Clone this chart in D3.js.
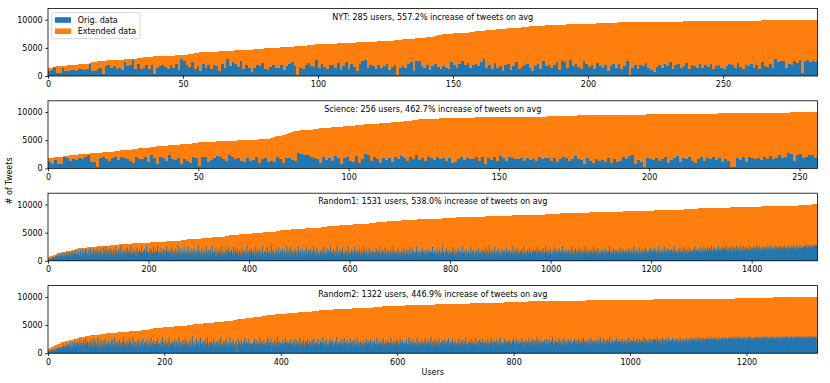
<!DOCTYPE html>
<html>
<head>
<meta charset="utf-8">
<script src="https://cdn.jsdelivr.net/npm/d3@7"></script>
<style>
  body { margin: 0; background: #fff; }
  text { font-family: "DejaVu Sans", sans-serif; }
</style>
</head>
<body>
<svg id="chart" width="830" height="383"></svg>
<script>
// tweets per user, in hundreds of tweets (orange = extended, sorted; blue = original)
const nytExt = [
14,15,16,17,17,18,18,19,19,20,20,21,21,22,22,23,24,25,26,26,
27,27,28,28,28,29,29,29,30,30,31,31,31,32,32,33,33,33,34,35,
35,35,35,36,36,36,36,37,37,37,38,38,39,39,40,41,42,42,42,43,
43,43,43,44,44,44,45,45,45,46,46,46,47,47,47,47,48,48,48,48,
49,49,49,50,50,50,51,51,52,52,52,53,53,54,54,54,55,55,55,56,
56,56,56,57,57,57,57,58,58,58,59,59,59,59,60,60,60,60,60,61,
61,61,62,62,62,63,63,63,64,64,64,65,65,66,66,66,67,67,68,68,
69,69,70,71,72,73,74,74,75,75,76,76,76,77,77,77,78,78,79,79,
80,80,81,81,82,82,83,83,84,84,85,85,86,86,86,87,87,87,88,88,
88,89,89,89,90,90,90,90,91,91,91,91,92,92,92,92,92,93,93,93,
93,93,93,94,94,94,94,94,94,94,94,95,95,95,95,95,95,95,95,95,
95,95,95,96,96,96,96,96,96,96,96,96,96,96,96,97,97,97,97,97,
97,97,97,97,97,97,97,97,97,97,98,98,98,98,98,98,98,98,98,98,
98,98,98,98,99,99,99,99,99,99,99,99,99,99,99,99,100,100,100,100,
100,100,100,100,100];
const nytOrig = [
8,11,16,6,5,14,9,8,10,11,9,12,13,10,12,22,9,8,13,14,
4,17,19,15,18,12,14,10,25,17,19,28,13,22,12,15,20,13,19,3,
14,18,20,16,13,19,15,22,11,30,26,20,16,24,13,18,9,21,15,19,
12,20,17,8,22,14,30,18,24,21,16,26,12,19,14,7,15,20,17,23,
13,11,16,19,14,15,20,10,17,22,24,18,2,15,13,20,23,17,16,28,
14,21,16,12,19,20,15,23,11,18,24,13,21,16,9,22,26,28,15,19,
17,12,20,14,18,22,11,16,19,1,15,18,14,21,24,9,26,27,18,14,
20,11,17,22,16,13,18,14,12,25,19,15,21,26,19,23,15,20,22,18,
24,30,15,19,12,23,14,18,9,20,22,11,17,24,13,16,19,21,14,8,
18,22,13,26,17,20,15,19,24,11,27,25,14,28,18,21,16,13,27,22,
16,19,12,23,18,14,20,9,17,21,15,22,13,18,26,2,14,19,12,20,
17,23,15,11,7,16,20,14,22,18,24,13,19,21,15,17,23,12,20,18,
15,21,14,19,16,22,13,18,20,15,12,17,21,19,14,23,16,13,20,17,
22,15,19,13,24,18,16,21,14,30,25,27,26,15,22,19,27,23,28,6,
26,28,25,27,24];

const sciExt = [
18,18,20,20,21,22,22,23,23,24,25,25,26,26,27,27,28,28,29,29,
30,30,31,31,32,32,33,33,34,35,36,36,37,37,38,38,39,39,40,40,
41,41,42,42,43,43,44,44,45,45,46,46,46,47,47,47,48,48,48,48,
49,49,49,50,50,50,50,51,51,51,52,52,52,53,54,55,57,58,60,61,
63,64,66,67,68,68,69,69,70,70,71,71,72,72,73,73,74,74,75,75,
76,76,77,77,77,78,78,78,79,79,80,80,81,81,82,82,83,83,84,84,
85,86,86,87,87,87,88,88,88,88,89,89,89,89,89,90,90,90,90,90,
90,90,91,91,91,91,91,91,91,91,91,91,92,92,92,92,92,92,92,92,
92,92,92,92,92,92,93,93,93,93,93,93,93,93,93,93,94,94,94,94,
94,94,94,94,94,94,94,95,95,95,95,95,95,95,95,95,95,95,95,96,
96,96,96,96,96,96,96,96,96,96,96,97,97,97,97,97,97,97,97,97,
97,97,97,98,98,98,98,98,98,98,98,98,98,98,98,99,99,99,99,99,
99,99,99,99,99,99,99,100,100,100,100,100,100,100,100,100];
const sciOrig = [
12,8,15,7,8,20,19,14,16,15,18,17,20,24,12,11,3,19,21,17,
13,18,20,15,21,19,16,14,9,20,17,16,21,11,23,18,7,20,18,13,
24,16,15,19,8,17,14,9,21,18,4,21,20,12,15,19,22,21,16,14,
24,20,17,18,14,12,18,13,15,20,9,17,19,12,13,11,21,17,10,18,
19,15,13,27,25,23,24,20,18,16,10,21,15,19,14,22,18,8,19,20,
14,12,22,9,16,25,24,13,20,17,10,18,15,19,11,20,16,22,18,13,
21,17,24,15,19,14,20,18,15,21,16,19,14,18,9,12,17,20,15,18,
16,17,20,14,21,8,18,15,20,13,22,19,14,21,18,17,16,19,14,18,
15,17,13,20,16,18,19,14,18,12,17,21,19,13,16,22,17,15,8,19,
14,10,17,13,15,11,19,9,16,12,14,20,17,22,23,8,15,11,3,18,
16,15,19,13,17,21,10,15,18,22,12,19,17,20,14,10,16,21,13,18,
17,20,15,19,12,16,14,2,3,18,15,21,12,20,19,16,18,15,20,17,
22,16,19,24,18,21,27,26,14,23,25,19,21,23,24,18];

const r1Ext = [
6,7,7,8,8,8,9,9,9,10,
10,10,11,11,11,12,12,12,13,13,
13,13,14,14,14,14,15,15,15,15,
16,16,16,16,16,17,17,17,17,17,
18,18,18,18,18,19,19,19,19,19,
20,20,20,20,21,21,21,21,21,22,
22,22,22,22,22,22,23,23,23,23,
23,23,23,23,23,23,23,23,24,24,
24,24,24,24,24,24,24,25,25,25,
25,25,25,25,25,25,25,26,26,26,
26,26,26,26,26,26,26,26,26,27,
27,27,27,27,27,27,27,27,27,27,
27,27,27,27,28,28,28,28,28,28,
28,28,28,28,28,28,28,28,28,28,
28,28,29,29,29,29,29,29,29,29,
29,29,29,29,29,29,30,30,30,30,
30,30,30,30,30,30,30,30,31,31,
31,31,31,31,31,31,31,31,31,31,
31,31,31,32,32,32,32,32,32,32,
32,32,32,32,32,32,32,32,32,32,
32,32,32,33,33,33,33,33,33,33,
33,33,33,33,33,33,33,33,34,34,
34,34,34,34,34,34,34,34,34,34,
34,34,34,34,34,35,35,35,35,35,
35,35,35,35,35,35,35,35,35,35,
35,35,35,36,36,36,36,36,36,36,
36,36,36,36,36,37,37,37,37,37,
37,37,37,37,37,37,38,38,38,38,
38,38,38,38,38,38,38,38,38,39,
39,39,39,39,39,39,39,39,39,39,
39,39,39,39,40,40,40,40,40,40,
40,40,40,40,40,41,41,41,41,41,
41,41,41,41,41,41,41,42,42,42,
42,42,42,42,42,42,42,42,43,43,
43,43,43,43,43,43,43,43,43,43,
43,43,44,44,44,44,44,44,44,44,
44,45,45,45,45,45,45,45,45,45,
45,46,46,46,46,46,46,46,46,46,
46,47,47,47,47,47,47,47,47,47,
47,47,48,48,48,48,48,48,48,48,
48,48,48,48,48,49,49,49,49,49,
49,49,49,49,49,49,50,50,50,50,
50,50,50,50,50,50,50,50,51,51,
51,51,51,51,51,51,51,51,51,51,
52,52,52,52,52,52,52,52,52,52,
52,52,52,53,53,53,53,53,53,53,
53,53,54,54,54,54,54,54,54,54,
54,54,54,55,55,55,55,55,55,55,
55,55,55,55,56,56,56,56,56,56,
56,56,56,56,56,56,57,57,57,57,
57,57,57,57,57,57,57,57,57,57,
57,57,58,58,58,58,58,58,58,58,
58,58,58,58,58,58,58,59,59,59,
59,59,59,59,59,59,59,59,59,59,
59,59,59,60,60,60,60,60,60,60,
60,60,60,60,60,61,61,61,61,61,
61,61,61,61,61,61,62,62,62,62,
62,62,62,62,62,62,62,62,63,63,
63,63,63,63,63,63,63,63,63,63,
63,64,64,64,64,64,64,64,64,64,
64,64,64,64,64,64,64,65,65,65,
65,65,65,65,65,65,65,65,65,65,
65,65,66,66,66,66,66,66,66,66,
66,66,66,66,66,66,66,66,67,67,
67,67,67,67,67,67,67,67,67,67,
67,67,67,68,68,68,68,68,68,68,
68,68,68,69,69,69,69,69,69,69,
69,69,69,69,70,70,70,70,70,70,
70,70,70,70,70,70,71,71,71,71,
71,71,71,71,71,71,71,71,71,71,
71,71,72,72,72,72,72,72,72,72,
72,72,72,72,72,72,72,73,73,73,
73,73,73,73,73,73,73,73,73,73,
73,73,73,73,74,74,74,74,74,74,
74,74,74,74,74,74,74,74,74,74,
74,74,74,74,74,74,74,74,74,75,
75,75,75,75,75,75,75,75,75,75,
75,75,75,75,75,75,75,75,75,75,
75,75,75,75,76,76,76,76,76,76,
76,76,76,76,76,76,76,76,76,76,
76,76,76,76,76,76,76,76,76,76,
76,77,77,77,77,77,77,77,77,77,
77,77,77,77,77,77,77,77,77,77,
77,77,77,77,77,77,77,77,77,77,
78,78,78,78,78,78,78,78,78,78,
78,78,78,78,78,78,78,78,78,78,
78,78,78,78,78,78,78,78,78,79,
79,79,79,79,79,79,79,79,79,79,
79,79,79,79,79,79,79,79,79,79,
79,79,79,80,80,80,80,80,80,80,
80,80,80,80,80,80,80,80,80,80,
80,80,80,80,80,80,80,80,80,80,
80,80,80,81,81,81,81,81,81,81,
81,81,81,81,81,81,81,81,81,81,
81,81,81,81,81,81,81,81,81,81,
81,81,81,81,81,81,81,81,81,82,
82,82,82,82,82,82,82,82,82,82,
82,82,82,82,82,82,82,82,82,82,
82,82,82,82,82,82,82,82,83,83,
83,83,83,83,83,83,83,83,83,83,
83,83,83,83,83,83,83,83,83,83,
83,83,83,83,83,83,83,83,84,84,
84,84,84,84,84,84,84,84,84,84,
84,84,84,84,84,84,84,84,84,84,
84,84,84,84,84,84,85,85,85,85,
85,85,85,85,85,85,85,85,85,85,
85,85,85,85,85,85,85,85,85,85,
85,85,85,85,85,85,86,86,86,86,
86,86,86,86,86,86,86,86,86,86,
86,86,86,86,86,86,86,86,86,86,
86,86,86,86,86,86,86,86,86,86,
86,86,86,87,87,87,87,87,87,87,
87,87,87,87,87,87,87,87,87,87,
87,87,87,87,87,87,87,87,87,87,
87,87,87,87,88,88,88,88,88,88,
88,88,88,88,88,88,88,88,88,88,
88,88,88,88,88,88,88,88,88,88,
88,88,88,88,88,89,89,89,89,89,
89,89,89,89,89,89,89,89,89,89,
89,89,89,89,89,89,89,89,89,89,
89,89,89,89,89,89,90,90,90,90,
90,90,90,90,90,90,90,90,90,90,
90,90,90,90,90,90,90,90,90,90,
90,90,90,90,91,91,91,91,91,91,
91,91,91,91,91,91,91,91,91,91,
91,91,91,91,91,91,91,91,91,91,
91,91,91,91,91,92,92,92,92,92,
92,92,92,92,92,92,92,92,92,92,
92,92,92,92,92,92,92,92,92,92,
92,92,92,93,93,93,93,93,93,93,
93,93,93,93,93,93,93,93,93,93,
93,93,93,93,93,93,93,93,93,93,
93,93,93,93,93,93,93,94,94,94,
94,94,94,94,94,94,94,94,94,94,
94,94,94,94,94,94,94,94,94,94,
94,94,94,94,94,94,94,95,95,95,
95,95,95,95,95,95,95,95,95,95,
95,95,95,95,95,95,95,95,95,95,
95,95,95,95,95,95,96,96,96,96,
96,96,96,96,96,96,96,96,96,96,
96,96,96,96,96,96,96,96,96,96,
96,96,96,96,96,96,96,96,96,97,
97,97,97,97,97,97,97,97,97,97,
97,97,97,97,97,97,97,97,97,97,
97,97,97,97,97,97,97,97,97,97,
97,97,97,97,97,97,97,97,97,98,
98,98,98,98,98,98,98,98,98,98,
98,98,98,98,98,98,98,98,98,98,
98,98,98,98,98,98,98,98,98,98,
98,98,99,99,99,99,99,99,99,99,
99,99,99,99,99,99,99,99,99,99,
99,99,99,99,99,99,99,99,99,99,
99,100,100,100,100,100,100,100,100,100,100];
const r1Orig = [
2,3,2,4,3,5,3,4,6,3,
5,7,4,6,8,4,9,5,7,10,
6,11,8,4,12,7,9,5,13,8,
7,12,6,14,9,6,11,15,8,13,
10,7,16,12,6,14,9,17,11,8,
13,9,17,7,12,19,8,14,10,6,
18,11,7,15,20,9,5,13,21,8,
12,16,6,19,10,22,7,14,11,5,
20,9,15,8,23,11,6,17,12,9,
22,7,13,19,9,5,16,24,8,14,
11,18,7,14,22,9,15,6,12,24,
8,13,19,10,26,7,15,11,20,9,
14,6,23,12,17,8,21,10,4,16,
19,11,7,25,13,9,18,12,15,6,
22,10,16,8,27,11,14,7,20,13,
9,17,12,6,21,14,10,24,8,15,
11,19,7,13,28,9,16,12,5,22,
14,8,18,11,15,7,23,10,17,9,
13,20,6,16,12,26,8,14,10,18,
7,21,11,15,9,27,12,17,8,14,
10,16,22,7,13,19,9,15,11,25,
8,14,6,20,12,17,10,27,9,13,
18,7,15,11,23,8,16,12,5,21,
14,9,19,10,13,26,7,17,11,15,
20,8,12,16,9,24,13,6,18,10,
15,11,21,7,14,9,18,12,27,8,
13,17,10,22,6,15,11,19,9,14,
25,8,12,16,10,20,7,13,26,11,
9,17,14,6,21,12,8,18,10,15,
23,7,13,11,19,9,16,12,28,8,
12,18,9,15,7,22,11,14,8,20,
13,6,17,10,25,12,9,16,11,19,
8,14,21,7,13,10,27,9,15,12,
17,8,11,23,6,14,10,18,13,9,
20,12,7,16,11,26,8,14,10,17,
9,15,12,21,7,13,18,10,25,8,
14,11,17,6,20,12,9,16,10,26,
7,13,19,11,15,8,22,12,9,14,
18,10,6,16,13,24,8,11,17,9,
12,20,7,14,10,27,11,15,8,19,
13,9,17,11,22,7,14,10,18,12,
8,25,11,15,6,20,13,9,16,10,
21,8,12,17,9,14,26,7,13,11,
16,10,19,8,14,12,24,9,15,7,
18,11,13,28,10,16,8,20,12,14,
10,17,7,13,21,9,15,12,25,8,
14,11,18,6,16,10,22,13,9,19,
12,7,15,11,27,8,17,10,14,20,
9,13,24,7,16,12,10,18,8,15,
11,21,14,9,17,6,13,26,10,16,
8,14,19,11,7,22,13,9,16,12,
18,10,15,25,8,13,11,20,7,17,
12,9,21,14,10,16,8,27,11,13,
19,7,15,10,24,12,9,17,14,8,
11,18,13,6,20,10,16,12,26,9,
14,11,17,8,22,13,10,19,7,15,
12,25,9,16,11,14,8,21,13,10,
18,7,15,12,27,9,14,11,17,8,
20,13,10,16,7,24,12,9,15,11,
8,19,14,10,17,12,26,9,13,16,
11,15,8,21,13,10,18,12,7,25,
14,9,17,11,20,8,16,13,10,22,
12,7,15,19,9,14,11,27,8,17,
13,10,21,12,16,7,14,9,24,11,
18,8,13,15,10,20,12,17,9,14,
16,10,22,8,13,18,11,15,7,26,
12,9,17,14,10,20,8,16,13,11,
24,7,14,10,19,12,9,17,11,15,
8,21,13,10,16,12,27,9,14,11,
18,7,15,13,10,22,8,17,12,14,
9,16,12,19,7,14,11,24,10,17,
13,8,15,20,11,14,9,18,12,25,
10,16,7,13,21,9,15,12,17,8,
14,11,26,10,16,13,8,19,12,15,
7,18,11,14,22,9,16,10,13,20,
12,8,17,14,10,21,13,9,16,11,
19,7,15,12,25,10,14,8,18,13,
11,16,9,22,12,7,15,10,20,14,
8,17,13,11,27,9,15,12,10,18,
14,7,21,11,16,13,9,19,12,15,
10,18,13,8,16,24,11,14,9,20,
12,15,7,17,11,22,10,13,16,8,
19,12,14,9,26,11,15,10,17,13,
8,21,12,16,10,14,18,9,13,11,
25,7,15,12,17,10,20,13,9,16,
11,14,19,8,16,12,23,10,15,13,
9,18,11,17,7,21,14,10,16,12,
24,8,13,19,11,15,9,27,12,14,
10,17,13,8,20,11,16,12,25,9,
15,11,18,13,10,22,14,8,17,12,
13,9,21,15,11,17,8,19,12,14,
10,24,13,16,9,18,11,14,20,8,
15,12,17,10,26,13,9,16,11,19,
14,8,22,12,15,10,18,13,9,17,
11,20,14,10,16,12,25,9,15,13,
17,11,14,20,9,15,12,24,10,16,
13,8,18,14,11,21,12,16,9,19,
15,10,25,13,11,17,8,20,14,12,
18,9,15,12,22,11,16,13,10,27,
12,17,9,14,19,11,15,10,21,13,
14,10,18,12,16,9,24,13,11,17,
20,12,15,8,19,14,10,22,13,16,
11,17,13,26,10,15,12,18,9,14,
21,11,16,13,10,20,14,12,17,9,
15,25,12,14,11,18,13,10,22,16,
12,16,10,19,14,11,24,13,17,9,
15,20,12,14,10,18,16,11,26,13,
10,17,14,21,12,9,16,13,19,11,
18,12,15,10,25,14,11,17,13,20,
9,16,13,22,11,15,12,18,10,14,
17,11,20,14,12,16,10,24,13,15,
11,19,14,9,17,13,27,12,16,10,
14,18,11,15,22,13,10,17,12,20,
16,9,14,19,12,15,11,25,13,17,
10,21,14,12,18,13,16,11,20,15,
13,17,11,22,15,10,18,14,12,21,
16,11,14,19,13,26,10,17,12,15,
20,14,11,16,13,24,12,17,10,18,
14,21,12,15,11,19,16,13,25,10,
17,12,15,20,13,11,18,14,23,16,
12,19,15,11,17,24,14,12,20,16,
10,18,13,15,27,12,17,14,11,21,
15,13,19,12,16,25,11,17,14,20,
13,18,12,22,15,11,17,19,14,16,
21,12,15,18,13,26,16,11,19,14,
16,13,20,15,12,18,23,14,17,11,
19,15,13,25,16,12,18,14,21,13,
15,20,12,17,14,24,16,13,19,15,
12,18,16,21,14,13,26,15,17,20,
14,19,13,16,23,15,18,12,25,17,
15,20,17,13,24,16,19,14,22,18,
16,25,13,18,15,23,17,20,14,27,
19,15,21,17,13,24,16,20,18,14,
22,17,15,26,19,16,21,14,18,24,
16,20,17,25,15,19,23,16,28,18,
20,16,24,18,15,22,19,17,26,14,
21,18,16,25,20,17,23,15,19,27,
17,22,19,15,21,25,18,16,24,20,
15,19,26,17,22,18,16,25,20,21,
18,23,16,20,27,17,21,19,15,24,
22,17,20,26,18,23,16,21,28,19,
17,25,20,22,15,27,19,18,24,21,
20,16,26,22,18,24,17,21,19,27,
23,19,17,25,21,20,28,18,22,16,
21,26,19,23,17,22,20,27,18,24,
19,23,21,17,27,20,25,18,22,26,
21,18,24,20,28,19,23,22,17,25,
20,27,22,19,24,21,18,26,23,20,
24,19,22,28,20,23,21,18,27,22,
20,25,23,19,22,29,21,24,20,23,
25,21,24,22,28,20,27,23,21,26,
22,29,24,20,27,23,25,21,28,22,
24,27,23,29,26,22,28,24,27,23,26];

const r2Ext = [
8,8,9,9,10,10,11,11,12,12,
13,13,14,14,15,15,16,16,17,17,
18,18,18,19,19,19,20,20,20,20,
21,21,21,22,22,22,23,23,23,24,
24,24,24,25,25,25,25,26,26,26,
27,27,27,27,28,28,28,28,29,29,
29,29,29,30,30,30,30,31,31,31,
31,31,31,32,32,32,32,32,32,32,
33,33,33,33,33,33,33,33,33,34,
34,34,34,34,34,34,34,34,34,34,
35,35,35,35,35,35,35,35,35,36,
36,36,36,36,36,36,36,36,36,37,
37,37,37,37,37,37,37,37,37,38,
38,38,38,38,38,38,38,38,38,38,
39,39,39,39,39,39,39,39,39,39,
39,39,40,40,40,40,40,40,40,41,
41,41,41,41,41,41,42,42,42,42,
42,42,42,43,43,43,43,43,43,43,
44,44,44,44,44,44,44,44,45,45,
45,45,45,45,45,45,45,46,46,46,
46,46,46,46,46,46,46,47,47,47,
47,47,47,47,47,47,47,48,48,48,
48,48,48,48,48,48,48,49,49,49,
49,49,49,49,49,49,49,49,50,50,
50,50,50,50,50,50,50,50,50,51,
51,51,51,51,51,51,51,51,52,52,
52,52,52,52,52,52,52,53,53,53,
53,53,53,53,53,53,54,54,54,54,
54,54,54,54,54,55,55,55,55,55,
55,55,55,55,55,56,56,56,56,56,
56,56,56,57,57,57,57,57,57,57,
58,58,58,58,58,58,58,59,59,59,
59,59,59,59,60,60,60,60,60,60,
60,61,61,61,61,61,61,61,62,62,
62,62,62,62,62,62,63,63,63,63,
63,63,63,64,64,64,64,64,64,65,
65,65,65,65,65,65,66,66,66,66,
66,66,66,66,67,67,67,67,67,67,
67,68,68,68,68,68,68,68,68,68,
69,69,69,69,69,69,69,69,69,69,
70,70,70,70,70,70,70,70,70,70,
71,71,71,71,71,71,71,71,71,71,
72,72,72,72,72,72,72,72,72,72,
73,73,73,73,73,73,73,73,73,73,
73,73,73,74,74,74,74,74,74,74,
74,74,74,74,75,75,75,75,75,75,
75,75,75,75,75,76,76,76,76,76,
76,76,76,76,76,76,76,77,77,77,
77,77,77,77,77,77,77,77,77,77,
78,78,78,78,78,78,78,78,78,78,
78,78,78,78,78,78,78,79,79,79,
79,79,79,79,79,79,79,79,79,79,
79,79,79,80,80,80,80,80,80,80,
80,80,80,80,80,80,80,80,80,80,
80,81,81,81,81,81,81,81,81,81,
81,81,81,81,81,81,81,81,82,82,
82,82,82,82,82,82,82,82,82,82,
82,82,82,82,83,83,83,83,83,83,
83,83,83,83,83,83,83,83,83,83,
83,83,84,84,84,84,84,84,84,84,
84,84,84,84,84,84,84,84,84,84,
84,84,84,84,85,85,85,85,85,85,
85,85,85,85,85,85,85,85,85,85,
85,85,85,85,85,85,85,86,86,86,
86,86,86,86,86,86,86,86,86,86,
86,86,86,86,86,86,86,86,86,86,
86,86,86,86,86,87,87,87,87,87,
87,87,87,87,87,87,87,87,87,87,
87,87,87,87,87,87,87,87,87,87,
87,87,87,87,87,87,88,88,88,88,
88,88,88,88,88,88,88,88,88,88,
88,88,88,88,88,88,88,88,88,88,
88,88,88,88,88,89,89,89,89,89,
89,89,89,89,89,89,89,89,89,89,
89,89,89,89,89,89,89,89,89,89,
// 750
89,89,89,89,89,89,89,90,90,90,
90,90,90,90,90,90,90,90,90,90,
90,90,90,90,90,90,90,90,90,90,
90,90,90,90,91,91,91,91,91,91,
91,91,91,91,91,91,91,91,91,91,
// 800
91,91,91,91,91,91,91,91,91,91,
91,91,91,91,91,91,91,91,91,91,
91,91,91,91,91,92,92,92,92,92,
92,92,92,92,92,92,92,92,92,92,
92,92,92,92,92,92,92,92,92,92,
// 850
92,92,92,92,92,92,92,92,92,92,
92,92,92,92,92,92,92,92,92,92,
92,92,92,92,92,93,93,93,93,93,
93,93,93,93,93,93,93,93,93,93,
93,93,93,93,93,93,93,93,93,93,
// 900
93,93,93,93,93,93,93,93,93,93,
93,93,93,93,93,93,93,93,93,93,
93,93,93,93,93,94,94,94,94,94,
94,94,94,94,94,94,94,94,94,94,
94,94,94,94,94,94,94,94,94,94,
// 950
94,94,94,94,94,94,94,94,94,94,
94,94,94,94,94,94,94,94,94,94,
94,94,94,94,94,94,94,94,94,94,
94,94,94,94,94,95,95,95,95,95,
95,95,95,95,95,95,95,95,95,95,
// 1000
95,95,95,95,95,95,95,95,95,95,
95,95,95,95,95,95,95,95,95,95,
95,95,95,95,95,95,95,95,95,95,
95,95,95,95,95,95,95,95,95,95,
96,96,96,96,96,96,96,96,96,96,
// 1050
96,96,96,96,96,96,96,96,96,96,
96,96,96,96,96,96,96,96,96,96,
96,96,96,96,96,96,96,96,96,96,
96,96,96,96,96,96,96,96,96,96,
96,96,96,96,96,96,96,96,96,96,
// 1100
96,96,96,96,96,96,96,96,96,96,
96,96,96,96,96,96,96,96,96,96,
97,97,97,97,97,97,97,97,97,97,
97,97,97,97,97,97,97,97,97,97,
97,97,97,97,97,97,97,97,97,97,
// 1150
97,97,97,97,97,97,97,97,97,97,
97,97,97,97,97,97,97,97,97,97,
97,97,97,97,97,97,97,97,97,97,
98,98,98,98,98,98,98,98,98,98,
98,98,98,98,98,98,98,98,98,98,
// 1200
98,98,98,98,98,98,98,98,98,98,
98,98,98,98,98,98,98,98,98,98,
98,98,98,98,98,98,98,98,98,98,
98,98,98,98,98,98,98,98,98,98,
98,98,98,98,98,99,99,99,99,99,
// 1250
99,99,99,99,99,99,99,99,99,99,
99,99,99,99,99,99,99,99,99,99,
99,99,99,99,99,99,99,99,99,99,
99,99,99,99,99,99,99,99,99,99,
99,99,99,99,99,99,99,99,99,99,
// 1300
99,99,99,99,99,99,99,99,99,99,
100,100,100,100,100,100,100,100,100,100,100,100];
const r2Orig = [
3,4,2,5,3,6,4,3,7,5,
4,8,6,3,9,5,7,10,4,8,
11,6,9,5,12,8,14,7,10,13,
6,15,9,12,17,8,13,10,19,7,
14,11,20,9,16,22,10,13,18,8,
21,12,17,9,24,14,11,19,8,16,
23,10,15,26,12,18,7,22,13,9,
20,16,11,25,14,8,19,12,27,10,
15,22,9,17,13,28,11,18,14,7,
24,12,16,10,21,13,9,26,15,11,
18,9,14,23,11,16,7,20,13,25,
10,17,12,28,8,15,19,11,22,14,
9,16,24,12,18,7,13,21,10,27,
15,11,19,8,14,23,12,17,10,26,
13,20,9,16,12,29,11,18,14,8,
22,10,15,19,12,25,9,17,13,21,
11,16,27,8,14,20,12,18,10,24,
15,9,13,22,17,11,28,14,10,19,
12,23,16,9,15,20,11,26,13,17,
8,18,14,21,10,16,29,12,19,11,
15,24,10,17,13,20,9,27,14,12,
18,11,22,16,8,19,13,25,10,15,
21,12,17,9,28,14,11,20,16,13,
10,23,15,12,18,26,9,16,21,11,
14,19,13,24,10,17,12,30,15,9,
20,13,16,11,25,14,18,9,22,12,
15,27,10,17,13,21,11,19,14,24,
9,16,12,28,15,10,20,13,18,11,
23,14,17,9,26,12,19,15,10,21,
13,18,11,24,16,12,29,10,17,14,
11,22,15,18,9,25,13,16,12,20,
14,10,27,17,13,19,11,23,15,8,
18,12,21,2,16,10,26,13,19,11,
15,24,9,17,12,20,14,28,10,16,
22,13,18,11,25,15,12,19,9,17,
16,11,20,14,26,12,18,9,23,15,
13,19,10,27,16,12,21,14,17,11,
24,15,9,18,13,22,11,28,16,12,
19,14,25,10,17,13,20,15,11,23,
12,18,16,29,14,10,21,13,19,15,
17,12,24,15,10,20,14,27,11,18,
13,22,16,9,19,14,25,12,17,11,
21,15,13,26,10,18,14,23,16,12,
19,11,28,15,13,20,10,17,24,14,
12,22,16,19,11,25,15,13,18,21,
14,19,11,23,16,12,27,15,18,10,
20,13,17,25,11,16,14,22,12,19,
15,28,10,18,14,21,13,24,16,11,
17,12,20,15,26,13,19,11,23,14,
10,18,16,22,13,29,12,17,15,20,
13,21,16,11,25,14,18,12,27,15,
19,10,17,23,14,12,20,16,11,26,
15,18,13,22,10,24,17,14,19,12,
28,11,16,20,13,15,21,12,18,14,
11,23,17,13,19,15,26,10,16,22,
14,18,12,25,16,11,21,15,19,13,
23,10,17,14,28,12,16,20,11,18,
15,22,13,19,10,26,14,17,12,21,
16,11,24,15,18,13,20,12,27,14,
19,13,16,22,11,17,15,25,12,18,
21,14,17,12,26,15,19,11,23,16,
13,20,15,18,10,24,14,17,12,28,
16,11,22,14,19,13,25,15,18,12,
20,16,13,27,11,17,21,14,19,15,
12,23,16,18,14,21,11,26,15,17,
19,13,24,16,12,20,15,28,14,18,
11,22,17,13,25,15,19,12,21,16,
14,26,12,18,15,20,13,23,17,11,
24,15,19,13,17,22,14,27,16,12,
18,21,14,16,25,13,19,15,11,23,
16,12,20,17,14,26,15,18,13,22,
19,11,24,16,13,21,15,28,12,17,
14,20,16,23,12,18,15,25,13,19,
21,14,17,12,27,16,19,13,22,15,
13,24,18,15,20,12,26,16,19,14,
17,22,13,19,16,25,14,18,12,21,
15,27,17,13,20,16,23,14,19,12,
24,16,18,13,22,15,28,12,17,20,
14,19,16,26,13,21,15,18,23,12,
20,15,24,17,13,19,16,22,14,27,
16,21,13,18,25,15,19,12,23,17,
14,20,16,27,13,18,22,15,19,12,
24,17,14,21,16,26,13,19,15,22,
18,12,25,16,20,14,23,17,13,28,
15,21,18,14,24,16,19,13,22,17,
20,14,23,17,15,26,18,13,21,16,
25,15,19,12,22,17,28,14,20,16,
13,24,18,21,15,19,14,26,17,12,
22,16,20,14,27,15,18,23,13,19,
17,21,15,25,14,20,16,24,18,13,
19,15,22,17,26,14,20,16,23,13,
18,25,15,21,17,12,24,16,19,28,
14,20,17,23,15,19,13,26,18,16,
22,14,27,17,20,15,24,13,19,21,
16,23,18,14,25,17,21,15,28,19,
17,22,15,26,19,14,23,18,20,16,
25,15,21,17,28,16,19,13,24,18,
20,16,23,14,22,18,27,15,19,21,
14,24,17,20,16,26,18,22,15,19,
23,17,21,15,25,19,16,28,18,20,
18,24,16,21,19,27,15,22,17,20,
25,16,23,18,14,26,19,21,17,24,
20,15,22,28,18,16,25,19,23,17,
21,18,26,15,20,24,17,22,19,27,
16,23,19,25,18,21,28,17,20,24,
22,17,25,19,21,27,18,23,16,24,
20,26,18,22,17,28,19,21,24,18,
23,19,27,16,22,20,25,18,21,26,
17,24,20,23,19,28,22,18,25,21,
19,26,22,17,24,20,27,21,18,25,
23,19,26,21,28,20,24,18,25,22,
27,21,24,19,26,23,29,20,25,22,
21,28,23,25,20,27,22,24,19,26,
25,22,28,21,24,26,20,29,23,25,
22,27,24,20,26,23,28,21,25,24,
26,22,29,24,21,27,25,23,28,20,
24,27,22,26,29,23,25,21,28,24,
27,23,25,30,22,26,24,28,21,27,
23,29,25,22,27,24,30,26,23,28,
25,21,28,26,24,29,22,27,25,23,
28,24,26,30,23,27,25,29,22,26,
24,28,27,23,29,25,26,30,24,28,
27,25,29,22,28,26,24,30,27,25,
29,23,27,26,30,24,28,25,22,29,
26,28,24,30,27,23,29,26,28,25,
27,29,25,28,24,30,26,17,28,27,
25,30,27,24,29,26,28,25,30,27,
29,26,28,23,27,30,25,29,26,28,
24,28,30,27,25,29,26,28,27,30,
28,25,29,26,30,27,24,29,28,26,
29,27,30,28,26,29,27,30,28,25,
30,28,26,29,27,30,28,26,29,5,28,27];

const panelTitles = [
  "NYT: 285 users, 557.2% increase of tweets on avg",
  "Science: 256 users, 462.7% increase of tweets on avg",
  "Random1: 1531 users, 538.0% increase of tweets on avg",
  "Random2: 1322 users, 446.9% increase of tweets on avg"
];
const nytTicks = [0, 50, 100, 150, 200, 250];
const sciTicks = [0, 50, 100, 150, 200, 250];
const r1Ticks = [0, 200, 400, 600, 800, 1000, 1200, 1400];
const r2Ticks = [0, 200, 400, 600, 800, 1000, 1200];
const yTicks = [0, 5000, 10000];
const legendLabels = ["Orig. data", "Extended data"];

const blue = "#1f77b4", orange = "#ff7f0e";
const plotLeft = 48, plotRight = 817.5;
const panelTops = [8.4, 100.8, 193.2, 285.6], panelH = 67.6;
const yMax = 12000;

const panels = [
  { title: panelTitles[0], ext: nytExt, orig: nytOrig, ticks: nytTicks },
  { title: panelTitles[1], ext: sciExt, orig: sciOrig, ticks: sciTicks },
  { title: panelTitles[2], ext: r1Ext, orig: r1Orig, ticks: r1Ticks },
  { title: panelTitles[3], ext: r2Ext, orig: r2Orig, ticks: r2Ticks }
];

const svg = d3.select("#chart");
svg.append("rect").attr("width", 830).attr("height", 383).attr("fill", "#fff");

panels.forEach((p, k) => {
  const top = panelTops[k], bottom = top + panelH;
  const n = Math.max(p.ext.length, p.orig.length);
  const x = d3.scaleLinear().domain([0, n]).range([plotLeft, plotRight]);
  const y = d3.scaleLinear().domain([0, yMax]).range([bottom, top]);
  const bw = x(1) - x(0);
  // thin bars (random samples) get a little overlap so the blue reads as a band
  const thin = bw < 1;

  const g = svg.append("g").attr("class", "panel");

  g.append("g")
    .attr("shape-rendering", "crispEdges")
    .selectAll("rect")
    .data(p.ext)
    .join("rect")
    .attr("x", (d, i) => x(i))
    .attr("width", bw)
    .attr("y", d => y(d * 100))
    .attr("height", d => bottom - y(d * 100))
    .attr("fill", orange);

  g.append("g")
    .attr("shape-rendering", thin ? "auto" : "crispEdges")
    .selectAll("rect")
    .data(p.orig)
    .join("rect")
    .attr("x", (d, i) => x(i))
    .attr("width", thin ? bw + 0.5 : bw)
    .attr("y", d => y(d * 100))
    .attr("height", d => bottom - y(d * 100))
    .attr("fill", blue);

  // axes
  const yAxis = g.append("g")
    .attr("transform", `translate(${plotLeft},0)`)
    .call(d3.axisLeft(y).tickValues(yTicks).tickFormat(d3.format("d")).tickSize(2.8).tickPadding(2.5));
  const xAxis = g.append("g")
    .attr("transform", `translate(0,${bottom})`)
    .call(d3.axisBottom(x).tickValues(p.ticks).tickFormat(d3.format("d")).tickSize(2.8).tickPadding(3));
  [yAxis, xAxis].forEach(a => {
    a.select(".domain").remove();
    a.selectAll("line").attr("stroke", "#000").attr("stroke-width", 0.8);
    a.selectAll("text").attr("font-size", 8).attr("font-family", "DejaVu Sans, sans-serif").attr("fill", "#000");
  });

  // white strip right of the frame hides any overhang of the widened thin bars
  g.append("rect")
    .attr("x", plotRight).attr("y", top)
    .attr("width", 830 - plotRight).attr("height", panelH)
    .attr("fill", "#fff");

  // frame
  g.append("rect")
    .attr("x", plotLeft).attr("y", top)
    .attr("width", plotRight - plotLeft).attr("height", panelH)
    .attr("fill", "none").attr("stroke", "#000").attr("stroke-width", 0.8);

  g.append("text")
    .attr("x", (plotLeft + plotRight) / 2)
    .attr("y", top + 11.2)
    .attr("text-anchor", "middle")
    .attr("font-size", 8)
    .text(p.title);
});

// legend in first panel
const legend = svg.append("g");
legend.append("rect")
  .attr("x", 51.7).attr("y", 12.7).attr("width", 88.3).attr("height", 26)
  .attr("rx", 2).attr("fill", "#fff").attr("fill-opacity", 0.8)
  .attr("stroke", "#ccc").attr("stroke-width", 0.8);
[blue, orange].forEach((c, i) => {
  const cy = 20 + i * 11.2;
  legend.append("rect").attr("x", 55).attr("y", cy - 2.8).attr("width", 16).attr("height", 5.6).attr("fill", c);
  legend.append("text").attr("x", 77.7).attr("y", cy).attr("dy", "0.35em")
    .attr("font-size", 8).text(legendLabels[i]);
});

// axis labels
svg.append("text")
  .attr("transform", `translate(12,${(panelTops[0] + panelTops[3] + panelH) / 2}) rotate(-90)`)
  .attr("text-anchor", "middle").attr("font-size", 8).text("# of Tweets");
svg.append("text")
  .attr("x", (plotLeft + plotRight) / 2).attr("y", 375)
  .attr("text-anchor", "middle").attr("font-size", 8).text("Users");
</script>
</body>
</html>
